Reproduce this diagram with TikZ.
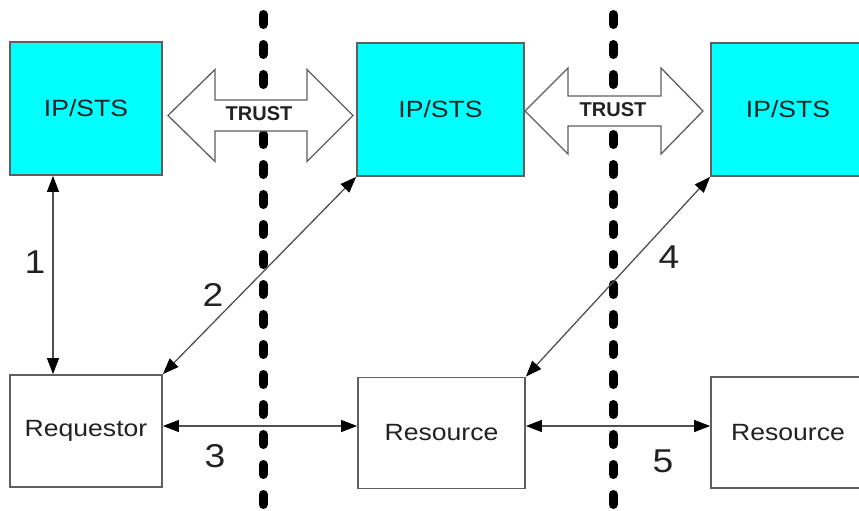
\documentclass[tikz,border=0pt]{standalone}
\usepackage{fontspec}
\setmainfont{Liberation Sans}
\newfontfamily\labfont[FakeStretch=1.13]{Liberation Sans}
\usetikzlibrary{arrows.meta}
\definecolor{ipcyan}{HTML}{00FFFF}
\definecolor{edgegray}{HTML}{5F5F5F}
\definecolor{linegray}{HTML}{505050}
\definecolor{txt}{HTML}{222222}
\begin{document}
\begin{tikzpicture}[x=1pt,y=-1pt,
  boxbase/.style={rectangle, draw=edgegray, line width=1.8pt, text=txt, inner sep=0pt,
    font=\labfont\fontsize{23.5}{28}\selectfont},
  ipbox/.style={boxbase, fill=ipcyan},
  plainbox/.style={boxbase, fill=white},
  conn/.style={draw=linegray, line width=1.3pt,
    {Triangle[length=16pt,width=12pt,color=black]}-{Triangle[length=16pt,width=12pt,color=black]}},
  divider/.style={draw=black, line width=9pt, line cap=round, dash pattern=on 10pt off 20pt},
  trust/.style={draw=edgegray, fill=white, line width=1.3pt, line join=miter},
  trusttext/.style={text=txt, font=\bfseries\fontsize{20}{24}\selectfont, inner sep=0pt},
  numlabel/.style={text=txt, font=\labfont\fontsize{33}{38}\selectfont, inner sep=0pt}
]
\useasboundingbox (0,0) rectangle (859,511);
\clip (0,0) rectangle (859,511);

% trust boundaries
\coordinate (d1top) at (263,14.5);
\coordinate (d1bot) at (263,530);
\coordinate (d2top) at (613,14.5);
\coordinate (d2bot) at (613,530);
\draw[divider] (d1top) -- (d1bot);
\draw[divider] (d2top) -- (d2bot);

% boxes
\node[ipbox, minimum width=152pt, minimum height=133pt] (ip1) at (86,108.5) {IP/STS};
\node[ipbox, minimum width=167pt, minimum height=133pt] (ip2) at (440.5,109.5) {IP/STS};
\node[ipbox, minimum width=154pt, minimum height=133pt] (ip3) at (788,109.5) {IP/STS};
\node[plainbox, minimum width=152pt, minimum height=112pt] (req) at (86,431) {Requestor};
\node[plainbox, minimum width=167pt, minimum height=111pt] (res1) at (441.5,433) {Resource};
\node[plainbox, minimum width=154pt, minimum height=111pt] (res2) at (788,432.5) {Resource};

% trust arrows
\draw[trust] (168,115.5) -- (215,69.5) -- (215,100) -- (307,100) -- (307,69.5) -- (353,115.5)
  -- (307,161.5) -- (307,131) -- (215,131) -- (215,161.5) -- cycle;
\node[trusttext] (t1) at (259,114) {TRUST};
\draw[trust] (525,111) -- (568,68) -- (568,96) -- (661,96) -- (661,68) -- (703,111)
  -- (661,154) -- (661,126) -- (568,126) -- (568,154) -- cycle;
\node[trusttext] (t2) at (613,110) {TRUST};

% connectors
\draw[conn] ([xshift=-33pt]ip1.south) -- ([xshift=-33pt]req.north);
\draw[conn] (req.north east) -- (ip2.south west);
\draw[conn] ([yshift=5pt]req.east) -- ([yshift=5pt]req.east -| res1.west);
\draw[conn] (res1.north east) -- (ip3.south west);
\draw[conn] ([yshift=7pt]res1.east) -- ([yshift=7pt]res1.east -| res2.west);

% labels
\node[numlabel] (n1) at (35,262) {1};
\node[numlabel] (n2) at (213,295) {2};
\node[numlabel] (n3) at (215,456) {3};
\node[numlabel] (n4) at (669,257) {4};
\node[numlabel] (n5) at (663,461) {5};
\end{tikzpicture}
\end{document}
